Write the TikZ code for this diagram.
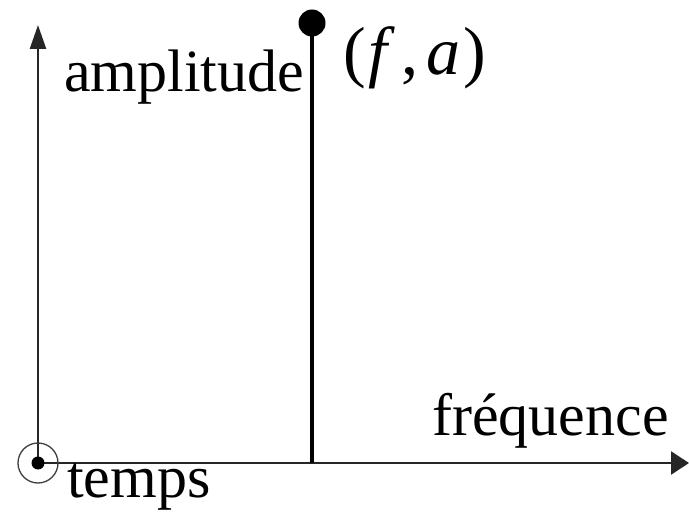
\documentclass[tikz,border=0pt]{standalone}
\usepackage{fontspec}
\setmainfont{Liberation Serif}
\usetikzlibrary{arrows.meta}
\begin{document}
\begin{tikzpicture}[x=1pt,y=-1pt,
  axis/.style={line width=2.5pt,draw=black!85},
  lbl/.style={anchor=base west,inner sep=0pt,font=\fontsize{60}{62}\selectfont}]
\useasboundingbox (0,0) rectangle (689,519);
\coordinate (O) at (38,463);
\coordinate (X) at (689,463);
\coordinate (Y) at (38,25);
\coordinate (S) at (312,463);
\coordinate (P) at (312,23);
\draw[axis,-{Triangle[length=18pt,width=23pt]}] (O) -- (X);
\draw[axis,-{Triangle[length=24pt,width=16pt]}] (O) -- (Y);
\draw[line width=4pt] (S) -- (P);
\fill (P) circle [radius=13.5pt];
\draw[line width=1.3pt,draw=black!75] (O) circle [radius=20pt];
\fill (O) circle [radius=6.5pt];
\node[lbl] (amp) at (64,92) {amplitude};
\node[lbl,font=\fontsize{68}{70}\selectfont] (fa) at (343,75) {(\kern3pt\textit{f}\kern6pt,\kern8pt\textit{a}\kern3pt)};
\node[lbl] (freq) at (432,435) {fréquence};
\node[lbl] (temps) at (67,497) {temps};
\end{tikzpicture}
\end{document}
